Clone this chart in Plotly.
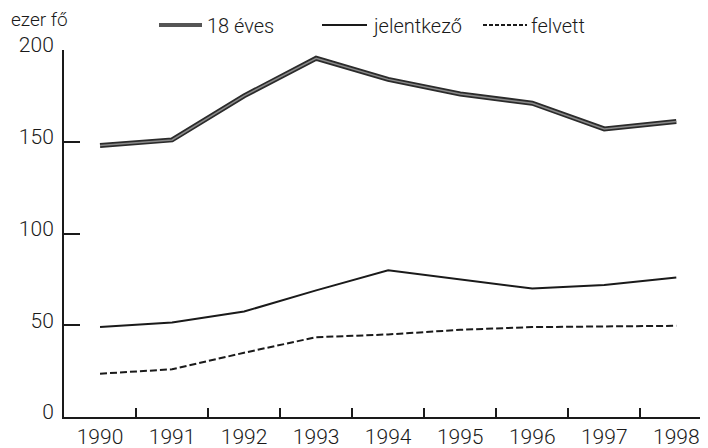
import plotly.graph_objects as go

years = ["1990", "1991", "1992", "1993", "1994", "1995", "1996", "1997", "1998"]
eves18 = [148, 151, 175, 195.5, 184, 176, 171, 157, 161]
jelentkezo = [49, 51.5, 57.5, 69, 80, 75, 70, 72, 76]
felvett = [23.6, 26, 35, 43.5, 45, 47.5, 49, 49.5, 49.7]

# page is 708x448, the html body adds an 8px margin
OFF = 8
W, H = 708 - OFF, 448 - OFF
# desired plot area in page pixels: x 64..708, y 50..417
ML, MR, MT, MB = 64 - OFF, 0, 50 - OFF, 448 - 417
PW = W - ML - MR
PH = H - MT - MB
FONT = "Roboto, Liberation Sans, sans-serif"
INK = "#1a1a1a"

def px_x(p):
    return (p - OFF - ML) / PW

def px_y(p):
    return (MT + PH - (p - OFF)) / PH

fig = go.Figure()
fig.add_trace(go.Scatter(x=years, y=eves18, mode="lines", name="18 éves",
                         line=dict(color="#2b2b2b", width=5), showlegend=False))
fig.add_trace(go.Scatter(x=years, y=eves18, mode="lines", name="18 éves",
                         line=dict(color="#8a8a8a", width=1.5), showlegend=False))
fig.add_trace(go.Scatter(x=years, y=jelentkezo, mode="lines", name="jelentkező",
                         line=dict(color=INK, width=2), showlegend=False))
fig.add_trace(go.Scatter(x=years, y=felvett, mode="lines", name="felvett",
                         line=dict(color=INK, width=2, dash="7px,3px"), showlegend=False))

shapes = [
    dict(type="line", xref="paper", yref="paper", x0=px_x(159), x1=px_x(202), y0=px_y(25), y1=px_y(25),
         line=dict(color="#555555", width=4)),
    dict(type="line", xref="paper", yref="paper", x0=px_x(322), x1=px_x(367), y0=px_y(25), y1=px_y(25),
         line=dict(color=INK, width=2)),
    dict(type="line", xref="paper", yref="paper", x0=px_x(483), x1=px_x(527), y0=px_y(25), y1=px_y(25),
         line=dict(color=INK, width=2, dash="4px,2px")),
]

LFONT = dict(size=20, weight=300)
annotations = [
    dict(text="ezer fő", x=px_x(9), y=px_y(20), xref="paper", yref="paper",
         xanchor="left", yanchor="middle", showarrow=False, font=dict(size=19, weight=300)),
    dict(text="18 éves", x=px_x(205), y=px_y(26), xref="paper", yref="paper",
         xanchor="left", yanchor="middle", showarrow=False, font=LFONT),
    dict(text="jelentkező", x=px_x(370), y=px_y(26), xref="paper", yref="paper",
         xanchor="left", yanchor="middle", showarrow=False, font=LFONT),
    dict(text="felvett", x=px_x(529), y=px_y(26), xref="paper", yref="paper",
         xanchor="left", yanchor="middle", showarrow=False, font=LFONT),
]

fig.update_layout(
    width=W, height=H,
    margin=dict(l=ML, r=MR, t=MT, b=MB, pad=0),
    paper_bgcolor="white", plot_bgcolor="white",
    font=dict(family=FONT, size=21, color=INK, weight=300),
    shapes=shapes, annotations=annotations,
    showlegend=False,
    xaxis=dict(type="category", range=[-0.5, 8.44], showgrid=False, zeroline=False,
               showline=True, linecolor=INK, linewidth=2,
               ticks="inside", ticklen=9, tickwidth=2, tickcolor=INK,
               tickson="boundaries", tickfont=dict(size=21, weight=300)),
    yaxis=dict(range=[0, 200], tickvals=[0, 50, 100, 150, 200], showgrid=False, zeroline=False,
               showline=True, linecolor=INK, linewidth=2,
               ticks="inside", ticklen=16, tickwidth=2, tickcolor=INK,
               ticklabelshift=-5, ticklabelstandoff=4, tickfont=dict(size=21, weight=300)),
)

fig.write_html("out.html")
